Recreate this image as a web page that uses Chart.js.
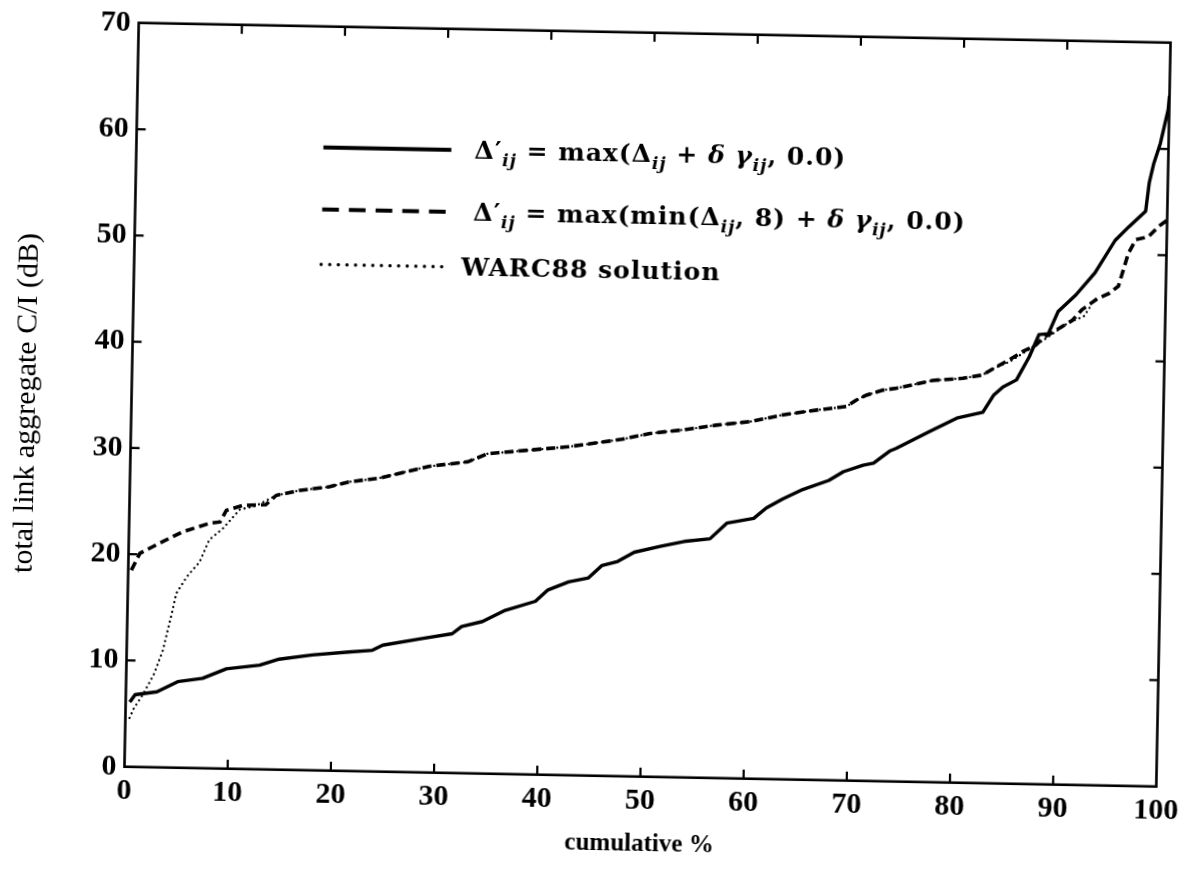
<!DOCTYPE html>
<html>
<head>
<meta charset="utf-8">
<title>total link aggregate C/I</title>
<script src="https://cdn.jsdelivr.net/npm/chart.js@4.4.1/dist/chart.umd.min.js"></script>
<style>
  html, body { margin: 0; padding: 0; background: #fff; overflow: hidden; }
  #wrap { width: 1192px; height: 882px; }
  /* the scanned figure sits slightly tilted on the page */
  #plot { display: block; transform: rotate(1.1deg); transform-origin: 650px 405px; }
</style>
</head>
<body>
<div id="wrap"><canvas id="plot" width="1192" height="882"></canvas></div>
<script>
// DATA
const xTickValues = [0, 10, 20, 30, 40, 50, 60, 70, 80, 90, 100];
const yTickValues = [0, 10, 20, 30, 40, 50, 60, 70];

const xTitle = "cumulative %";
const yTitle = "total link aggregate C/I (dB)";

// delta'_ij = max(delta_ij + d*gamma_ij, 0.0)
const solidX = [0.4, 0.9, 3.0, 5.0, 7.4, 9.7, 12.9, 14.8, 18.0, 21.5, 23.8, 24.8, 28.6, 31.5, 32.4, 34.4,
  36.6, 39.5, 40.7, 42.7, 44.6, 45.9, 47.4, 49.0, 51.5, 53.8, 56.3, 57.9, 60.5, 61.7, 63.3, 65.2, 67.7,
  69.1, 71.0, 72.0, 73.6, 74.2, 77.4, 80.0, 82.5, 83.5, 84.4, 85.7, 86.9, 87.8, 88.7, 89.6, 91.3, 93.1,
  95.0, 96.3, 97.9, 98.2, 98.6, 99.2, 99.9, 100];
const solidY = [6.1, 6.8, 7.1, 8.1, 8.45, 9.4, 9.8, 10.4, 10.85, 11.2, 11.4, 11.9, 12.6, 13.1, 13.8, 14.3,
  15.4, 16.3, 17.4, 18.2, 18.6, 19.8, 20.2, 21.1, 21.7, 22.2, 22.5, 24.0, 24.5, 25.5, 26.4, 27.3, 28.2,
  29.05, 29.7, 29.9, 31.1, 31.35, 33.0, 34.3, 34.9, 36.5, 37.3, 38.0, 40.2, 42.3, 42.4, 44.5, 46.1, 48.2,
  51.3, 52.6, 54.1, 56.8, 58.6, 60.5, 63.7, 65.0];

// delta'_ij = max(min(delta_ij, 8) + d*gamma_ij, 0.0)
const dashedX = [0.3, 1.1, 3.0, 5.2, 7.8, 8.8, 9.4, 11.0, 13.2, 14.2, 16.4, 19.3, 21.2, 24.1, 28.9, 32.7,
  34.6, 38.5, 42.4, 47.6, 50.3, 53.5, 56.7, 60.0, 63.2, 66.4, 69.3, 70.2, 71.2, 72.8, 74.1, 77.6, 80.5,
  82.4, 83.4, 85.0, 86.3, 87.5, 88.2, 89.7, 91.0, 91.9, 93.4, 94.5, 95.4, 96.3, 97.0, 98.2, 99.2, 100];
const dashedY = [18.5, 20.1, 21.1, 22.2, 23.05, 23.2, 24.3, 24.8, 24.9, 25.8, 26.3, 26.7, 27.2, 27.6, 28.8,
  29.3, 30.1, 30.5, 30.9, 31.7, 32.3, 32.7, 33.2, 33.6, 34.3, 34.8, 35.2, 35.8, 36.3, 36.8, 37.0, 37.8,
  38.05, 38.4, 39.0, 39.9, 40.7, 41.3, 42.0, 42.9, 43.7, 44.7, 45.8, 46.3, 47.0, 50.1, 51.4, 51.7, 52.7, 53.3];

// WARC88 solution
const dottedX = [0.4, 0.8, 1.7, 2.7, 3.5, 4.3, 4.7, 5.7, 6.9, 7.8, 9.1, 10.7, 12.3, 14.2, 16.4, 19.3, 21.2,
  24.1, 28.9, 32.7, 34.6, 38.5, 42.4, 47.6, 50.3, 53.5, 56.7, 60.0, 63.2, 66.4, 69.3, 70.2, 71.2, 72.8,
  74.1, 77.6, 80.5, 82.4, 83.4, 85.0, 87.8, 88.7, 90.5, 92.1, 92.7];
const dottedY = [4.6, 5.5, 6.9, 8.8, 11.0, 14.5, 16.4, 18.0, 19.4, 21.5, 22.6, 24.4, 24.8, 25.8, 26.3, 26.7,
  27.2, 27.6, 28.8, 29.3, 30.1, 30.5, 30.9, 31.7, 32.3, 32.7, 33.2, 33.6, 34.3, 34.8, 35.2, 35.8, 36.3,
  36.8, 37.0, 37.8, 38.05, 38.4, 39.0, 39.7, 41.5, 42.1, 43.4, 44.1, 45.0];

// legend texts: [text, kind]  b = bold, i = bold italic, sub = subscript
const legendSolid = [["Δ", "b"], ["′", "b"], ["ij", "sub"], [" = max(", "b"], ["Δ", "b"], ["ij", "sub"],
  [" + ", "b"], ["δ", "i"], [" ", "b"], ["γ", "i"], ["ij", "sub"], [", 0.0)", "b"]];
const legendDashed = [["Δ", "b"], ["′", "b"], ["ij", "sub"], [" = max(min(", "b"], ["Δ", "b"], ["ij", "sub"],
  [", 8) + ", "b"], ["δ", "i"], [" ", "b"], ["γ", "i"], ["ij", "sub"], [", 0.0)", "b"]];
const legendDotted = [["WARC88 solution", "b"]];

document.addEventListener("DOMContentLoaded", () => {
  const canvas = document.getElementById("plot");
  const INK = "#000";
  const TICK = 9;
  const SERIF = '"Liberation Serif", "DejaVu Serif", serif';
  const MATH = '"DejaVu Serif", serif';

  const toPoints = (xs, ys) => xs.map((x, i) => ({ x: x, y: ys[i] }));

  function drawRich(ctx, x, y, parts, size) {
    ctx.letterSpacing = "1px";
    parts.forEach(([text, kind]) => {
      let dy = 0;
      if (kind === "i") {
        ctx.font = `italic bold ${size}px ${MATH}`;
      } else if (kind === "sub") {
        ctx.font = `italic bold ${Math.round(size * 0.66)}px ${MATH}`;
        dy = size * 0.3;
      } else {
        ctx.font = `bold ${size}px ${MATH}`;
      }
      ctx.fillText(text, x, y + dy);
      x += ctx.measureText(text).width;
    });
    ctx.letterSpacing = "0px";
  }

  // FRAME, INWARD TICKS, Y TITLE AND LEGEND
  const framePlugin = {
    id: "frame",
    afterDraw(chart) {
      const { ctx, chartArea: a, scales: { x, y } } = chart;
      ctx.save();
      ctx.strokeStyle = INK;
      ctx.fillStyle = INK;

      ctx.lineWidth = 2.6;
      ctx.strokeRect(a.left, a.top, a.right - a.left, a.bottom - a.top);

      ctx.lineWidth = 2.2;
      ctx.beginPath();
      xTickValues.slice(1, -1).forEach((v) => {
        const px = x.getPixelForValue(v);
        ctx.moveTo(px, a.bottom);
        ctx.lineTo(px, a.bottom - TICK);
        ctx.moveTo(px, a.top);
        ctx.lineTo(px, a.top + TICK);
      });
      yTickValues.slice(1, -1).forEach((v) => {
        const py = y.getPixelForValue(v);
        ctx.moveTo(a.left, py);
        ctx.lineTo(a.left + TICK, py);
        ctx.moveTo(a.right, py);
        ctx.lineTo(a.right - TICK, py);
      });
      ctx.stroke();

      // y axis title
      ctx.save();
      ctx.translate(27, 415);
      ctx.rotate(-Math.PI / 2);
      ctx.font = `30px ${SERIF}`;
      ctx.textAlign = "center";
      ctx.textBaseline = "middle";
      ctx.fillText(yTitle, 0, 0);
      ctx.restore();

      // legend
      const rows = [
        { parts: legendSolid, dy: 121, tx: 338, dash: [], width: 4.2, cap: "butt" },
        { parts: legendDashed, dy: 183, tx: 338, dash: [16.7, 10], width: 4.2, cap: "butt" },
        { parts: legendDotted, dy: 238, tx: 327, dash: [0.01, 8.6], width: 3.4, cap: "round" }
      ];
      ctx.textBaseline = "alphabetic";
      ctx.textAlign = "left";
      rows.forEach((row) => {
        const ly = a.top + row.dy;
        ctx.beginPath();
        ctx.setLineDash(row.dash);
        ctx.lineWidth = row.width;
        ctx.lineCap = row.cap;
        ctx.moveTo(a.left + 187, ly);
        ctx.lineTo(a.left + 315, ly);
        ctx.stroke();
        ctx.setLineDash([]);
        drawRich(ctx, a.left + row.tx, ly + 8, row.parts, 25);
      });

      ctx.restore();
    }
  };

  const tickFont = { family: SERIF, size: 30, weight: "bold" };

  new Chart(canvas, {
    type: "line",
    data: {
      datasets: [
        {
          label: "solid",
          data: toPoints(solidX, solidY),
          borderColor: INK,
          borderWidth: 3.4,
          borderJoinStyle: "round",
          pointRadius: 0,
          tension: 0
        },
        {
          label: "dashed",
          data: toPoints(dashedX, dashedY),
          borderColor: INK,
          borderWidth: 3.6,
          borderDash: [9, 5],
          pointRadius: 0,
          tension: 0
        },
        {
          label: "WARC88 solution",
          data: toPoints(dottedX, dottedY),
          borderColor: INK,
          borderWidth: 2.3,
          borderDash: [0.01, 5],
          borderCapStyle: "round",
          pointRadius: 0,
          tension: 0
        }
      ]
    },
    options: {
      responsive: false,
      animation: false,
      layout: {
        padding: { top: 32.75, right: 23.5, left: 0, bottom: 0 }
      },
      plugins: {
        legend: { display: false },
        tooltip: { enabled: false }
      },
      scales: {
        x: {
          type: "linear",
          position: "bottom",
          min: 0,
          max: 100,
          grid: { display: false, drawTicks: false },
          border: { display: false },
          ticks: { color: INK, font: tickFont, padding: 6, maxRotation: 0, autoSkip: false },
          afterBuildTicks: (scale) => {
            scale.ticks = xTickValues.map((v) => ({ value: v }));
          },
          afterFit: (scale) => {
            scale.height = 105.25;
          },
          title: {
            display: true,
            text: xTitle,
            color: INK,
            font: { family: SERIF, size: 25, weight: "bold" },
            padding: { top: 0, bottom: 22 }
          }
        },
        y: {
          type: "linear",
          position: "left",
          min: 0,
          max: 70,
          grid: { display: false, drawTicks: false },
          border: { display: false },
          ticks: { color: INK, font: tickFont, padding: 8, autoSkip: false },
          afterBuildTicks: (scale) => {
            scale.ticks = yTickValues.map((v) => ({ value: v }));
          },
          afterFit: (scale) => {
            scale.width = 131.5;
          }
        }
      }
    },
    plugins: [framePlugin]
  });
});
</script>
</body>
</html>
